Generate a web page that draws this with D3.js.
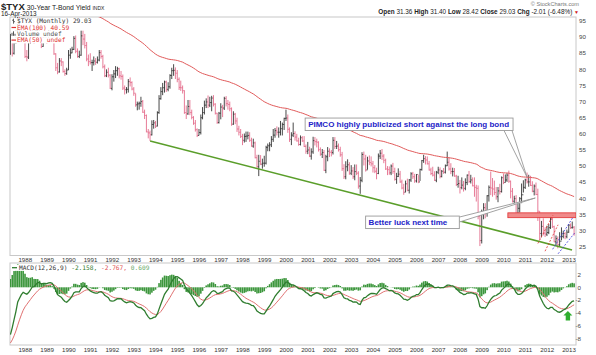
<!DOCTYPE html>
<html><head><meta charset="utf-8">
<script src="https://cdn.jsdelivr.net/npm/d3@7"></script>
<style>
body{margin:0;background:#fff;}
svg{display:block;font-family:Arial,"Liberation Sans",sans-serif;}
</style></head><body>
<svg id="c" width="596" height="355"></svg>
<script>
// ---------- DATA (monthly $TYX, May 1987 .. Apr 2013) ----------
const firstYear = 1987, firstMonth = 4; // May 1987 (0-based month)
const closes = [
 88.7,85.0,88.9,91.6,97.5,89.7,91.1,89.8,
 84.0,83.8,88.3,90.5,92.5,88.7,92.0,92.8,89.9,87.1,90.7,90.0,
 89.3,91.6,90.8,89.2,84.8,80.5,79.2,82.6,82.3,79.3,78.7,79.8,
 84.4,85.1,86.2,89.6,85.6,84.0,84.4,90.4,89.4,87.4,83.2,82.4,
 82.1,82.1,82.6,82.2,82.9,85.2,84.0,80.8,78.0,79.1,78.2,74.1,
 77.7,78.6,79.6,80.2,78.0,77.8,74.2,73.7,73.8,76.2,75.9,73.9,
 72.6,69.0,69.3,69.5,70.0,66.7,65.7,60.6,60.3,59.7,62.9,63.4,
 62.4,66.6,70.9,73.1,74.3,76.1,73.8,74.6,78.1,79.6,79.7,78.8,
 76.9,74.4,74.3,73.4,66.6,66.2,68.5,66.6,65.1,63.3,61.3,59.5,
 60.4,65.0,66.6,68.9,69.9,68.9,69.7,71.1,69.2,66.4,63.5,66.4,
 68.3,68.0,71.0,69.4,69.1,67.8,63.0,66.1,64.0,61.5,60.5,59.2,
 58.0,59.2,59.3,59.5,58.0,56.2,57.2,52.6,49.8,51.5,50.6,50.9,
 50.9,55.8,56.3,56.6,58.3,59.6,61.0,60.5,60.5,61.6,62.9,64.8,
 64.9,61.4,58.3,59.6,60.1,59.0,57.8,56.7,58.8,57.8,56.1,54.6,
 55.0,53.1,54.4,57.9,57.6,57.4,55.1,53.7,54.2,48.7,52.9,54.6,
 54.3,54.2,58.0,56.1,56.2,55.1,53.5,49.2,46.7,49.8,50.4,47.8,
 48.5,46.7,48.3,47.8,43.8,45.6,53.6,52.2,48.8,51.6,51.1,50.7,
 49.5,48.4,47.7,53.1,54.0,53.1,51.8,49.1,48.9,47.9,50.0,48.3,
 45.9,46.8,47.5,45.1,43.2,41.9,44.5,42.5,45.7,47.6,46.7,45.4,
 47.4,45.1,48.9,51.7,52.3,51.9,50.7,48.8,47.7,47.2,45.6,48.1,
 48.8,46.8,48.4,48.1,50.1,51.2,49.1,48.3,48.3,46.9,44.3,44.6,
 43.3,44.1,43.1,44.9,47.2,45.2,45.7,43.9,43.4,43.1,34.4,26.9,
 35.8,37.1,35.4,40.8,43.4,43.2,42.9,41.8,40.5,42.3,42.1,46.4,
 44.9,45.7,47.2,45.3,42.2,39.1,39.9,35.2,36.9,39.9,41.1,43.4,
 45.7,45.1,45.1,44.0,42.2,43.8,41.2,36.0,29.1,31.3,29.2,28.9,
 29.4,30.9,33.5,31.2,26.5,27.5,25.6,26.7,28.2,29.1,28.1,29.5,
 31.7,30.9,31.04,29.03
];
const highs = [
 91.0,89.5,89.2,92.5,99.0,102.5,92.0,93.0,
 90.0,86.0,89.0,91.2,93.5,93.0,92.7,94.0,93.5,90.5,91.3,92.0,
 91.5,92.5,93.5,91.5,90.0,85.0,82.0,83.5,83.5,82.5,80.0,80.5,
 86.0,86.5,87.0,90.3,90.5,86.5,85.8,92.0,92.0,91.0,88.5,84.6,
 85.0,83.0,84.0,83.5,84.0,86.0,86.0,84.5,81.5,80.0,80.5,78.5,
 78.5,79.8,81.0,80.8,80.5,79.5,78.4,75.0,74.5,77.0,77.5,76.3,
 74.5,72.5,70.0,70.0,71.5,70.5,67.5,66.0,61.5,61.0,64.2,64.3,
 64.0,67.0,72.0,74.5,75.8,76.5,76.5,76.0,78.5,80.5,81.6,80.6,
 79.8,77.5,76.5,75.0,73.5,68.8,70.5,70.5,67.5,65.5,64.3,61.7,
 61.5,66.0,68.3,70.3,71.0,71.9,71.5,71.8,72.0,69.5,66.5,66.8,
 69.5,69.0,71.5,71.7,70.5,70.0,68.2,67.0,66.5,65.0,62.5,61.5,
 60.0,60.1,60.7,60.7,60.5,58.8,58.5,57.6,53.5,53.5,53.4,52.3,
 53.2,56.3,57.0,57.4,59.3,61.5,61.8,62.3,62.0,64.0,63.5,65.0,
 67.5,66.0,62.0,60.5,63.5,60.8,60.0,58.8,59.5,59.3,59.3,56.7,
 57.5,56.0,55.5,59.1,59.0,58.5,57.7,55.8,55.3,55.0,53.5,55.9,
 55.5,55.0,59.0,59.0,57.8,57.0,56.0,54.4,50.6,51.5,52.1,51.2,
 50.3,49.7,50.5,50.5,48.4,46.6,54.3,54.5,53.5,52.9,53.3,53.0,
 51.6,50.3,49.5,53.9,55.0,55.3,53.7,52.3,50.0,49.9,50.5,51.0,
 49.5,47.9,49.3,48.5,45.8,44.5,45.5,46.1,46.0,48.1,48.2,47.6,
 47.5,47.2,49.2,51.9,53.5,53.1,53.0,51.6,49.5,49.8,48.4,48.5,
 49.8,49.6,48.8,49.4,50.5,54.5,52.6,50.9,49.5,49.4,47.3,47.0,
 45.7,46.5,45.4,46.2,47.4,48.5,47.3,46.5,46.5,44.2,44.0,35.5,
 36.5,38.5,38.5,41.0,44.0,48.3,46.3,45.5,43.5,43.5,44.5,46.8,
 47.7,47.4,47.8,48.6,45.5,43.2,40.8,41.0,38.8,40.4,44.6,45.6,
 46.1,48.0,47.3,47.0,45.3,44.3,44.9,43.0,36.0,33.0,33.8,31.0,
 31.5,32.0,34.6,34.0,31.5,28.5,28.2,29.5,31.0,30.0,29.5,30.3,
 32.0,32.2,32.8,31.40
];
const lows = [
 84.5,84.0,84.6,88.0,91.0,88.5,88.5,88.6,
 83.5,82.5,83.2,88.0,90.5,88.0,88.5,91.0,89.5,86.6,87.0,89.0,
 88.0,88.7,90.0,88.5,84.5,79.5,78.5,79.0,81.0,79.0,78.0,78.3,
 79.8,83.3,85.0,86.0,85.0,83.6,83.5,84.2,87.5,86.5,82.5,81.0,
 81.5,79.5,81.2,81.4,81.8,82.5,83.3,80.3,77.6,77.6,77.5,73.9,
 73.5,76.2,77.3,78.0,77.2,76.8,73.6,72.2,72.5,72.8,74.7,73.5,
 71.8,68.4,67.3,67.5,68.4,66.5,64.6,60.5,58.6,57.8,59.5,61.6,
 61.8,62.3,66.2,70.6,72.0,72.8,73.0,73.2,74.0,77.0,78.0,77.0,
 76.0,73.6,73.3,72.5,66.2,64.6,65.9,65.8,64.5,62.8,60.7,59.0,
 59.5,59.8,64.5,66.0,68.0,68.0,68.3,67.0,68.5,66.0,63.1,63.2,
 64.5,65.2,67.4,68.5,67.5,67.0,62.5,62.8,63.0,60.6,59.5,58.7,
 56.5,57.3,57.5,58.3,57.5,56.0,55.7,52.4,49.5,46.9,50.3,49.2,
 49.8,50.5,54.6,54.6,55.9,57.5,58.8,59.5,58.8,59.5,59.5,61.2,
 64.0,60.3,57.5,56.5,59.0,57.9,57.6,56.3,56.4,57.5,55.9,53.8,
 53.7,52.8,52.0,53.8,56.4,55.8,54.5,53.2,52.5,48.5,47.8,51.5,
 52.8,53.0,53.6,55.3,55.3,54.5,52.9,48.5,46.0,45.9,48.4,47.3,
 47.2,46.0,45.6,47.2,43.0,41.4,45.0,50.2,48.3,48.9,50.3,49.9,
 48.0,47.8,45.9,47.5,52.2,51.9,50.9,48.8,47.2,47.3,47.2,47.6,
 45.5,44.5,46.6,44.8,42.8,41.1,41.9,42.2,41.5,45.1,46.0,44.8,
 44.9,44.7,45.4,48.6,51.0,50.5,50.5,48.6,47.2,46.8,45.4,45.0,
 47.5,46.2,46.5,47.6,47.7,50.0,48.6,47.5,46.8,46.7,43.8,43.3,
 41.5,42.8,42.1,42.5,44.1,44.8,44.6,43.7,40.5,39.0,33.5,25.2,
 26.0,33.5,33.8,34.3,39.0,41.0,40.5,41.0,39.6,38.8,41.2,41.8,
 44.4,44.9,45.1,44.8,40.0,38.7,38.4,34.6,35.0,35.6,38.5,41.8,
 42.9,44.6,43.6,43.8,41.9,40.9,41.0,33.0,27.2,27.9,28.5,28.0,
 28.3,28.9,30.5,30.8,26.4,25.3,24.5,25.0,27.0,27.6,27.3,27.6,
 29.3,30.5,30.6,28.42
];
const firstOpen = 85.0;
const priceTicks = [25,30,35,40,45,50,55,60,65,70,75,80,85,90,95];
const macdTicks = [2,0,-2,-4,-6,-8];
const yearLabels = d3.range(1988, 2014);
// indicator state just before the first visible bar
const emaSeed = [114];              // EMA(100)
const macdSeed = [78, 85.4, -8.7];  // EMA12, EMA26, signal
// annotations in (date, value) terms
const trendLine = [[1993.79, 57.8], [2013.19, 24.0]];
const resistBand = [2010.24, 34.0, 35.5];
const pimcoBox = [2000.92, 64.9];  const pimcoTip = [2011.12, 46.6];
const luckBox = [2003.70, 34.5];   const luckTip = [2011.50, 40.1];
const redChannel = [[[2011.62, 26.0], [2012.32, 34.8]], [[2011.95, 23.6], [2012.55, 31.8]]];
const blueChannel = [[[2012.30, 24.2], [2013.25, 34.3]], [[2012.55, 22.8], [2013.30, 29.2]]];
const arrowAt = [2013.0, -3.7, -5.2];

// ---------- BUILD ----------
const svg = d3.select('#c');
const L = 10, R = 576, T1 = 17, B1 = 255.5, T2 = 263, B2 = 345;
const yr = t => { const y = Math.floor(t); return new Date(y, 0, 1).getTime() + (t - y) * 365.25 * 864e5; };
const x = d3.scaleTime().domain([new Date(1987, 4, 8), new Date(2013, 4, 17)]).range([L, R]);
const xt = t => x(new Date(yr(t)));
const y = d3.scaleLinear().domain([25, 95]).range([246.7, 21]);
const ym = d3.scaleLinear().domain([0, -8]).range([287.3, 338.5]);

const bars = closes.map((c, i) => ({
  date: new Date(firstYear, firstMonth + i, 15),
  o: i ? closes[i - 1] : firstOpen, h: highs[i], l: lows[i], c
}));
// EMA(100)
let e = emaSeed[0];
bars.forEach(b => { e = e + (2 / 101) * (b.c - e); b.ema = e; });
// MACD(12,26,9)
let [f, s, sg] = macdSeed;
bars.forEach((b, i) => {
  if (i > 0) { f += (2 / 13) * (b.c - f); s += (2 / 27) * (b.c - s); sg += 0.2 * ((f - s) - sg); }
  b.macd = f - s; b.sig = sg; b.hist = b.macd - sg;
});

const defs = svg.append('defs');
defs.append('clipPath').attr('id', 'cm').append('rect').attr('x', L).attr('y', T1).attr('width', R - L).attr('height', B1 - T1);
defs.append('clipPath').attr('id', 'cd').append('rect').attr('x', L).attr('y', T2).attr('width', R - L).attr('height', B2 - T2);

// panels
svg.append('rect').attr('x', L).attr('y', T1).attr('width', R - L).attr('height', B1 - T1).attr('fill', '#fff').attr('stroke', '#c8c8c8').attr('stroke-width', 1);
svg.append('rect').attr('x', L).attr('y', T2).attr('width', R - L).attr('height', B2 - T2).attr('fill', '#fff').attr('stroke', '#c8c8c8').attr('stroke-width', 1);

// header
const hd = svg.append('text').attr('x', 1).attr('y', 9.5).attr('fill', '#222');
hd.append('tspan').text('$TYX').attr('font-weight', 'bold').attr('font-size', 9.5);
hd.append('tspan').text(' 30-Year T-Bond Yield ').attr('font-size', 6.8);
hd.append('tspan').text('INDX').attr('font-size', 5);
svg.append('text').attr('x', 1).attr('y', 16).attr('font-size', 6.4).attr('fill', '#222').text('16-Apr-2013');
svg.append('text').attr('x', 579).attr('y', 6).attr('text-anchor', 'end').attr('font-size', 5.6).attr('fill', '#777').text('\u00a9 StockCharts.com');
const ohlc = svg.append('text').attr('x', 579).attr('y', 13.5).attr('text-anchor', 'end').attr('font-size', 6.4).attr('fill', '#222');
[['Open', ' 31.36 '], ['High', ' 31.40 '], ['Low', ' 28.42 '], ['Close', ' 29.03 '], ['Chg', ' -2.01 (-6.48%) ']].forEach(([k, v]) => {
  ohlc.append('tspan').attr('font-weight', 'bold').text(k);
  ohlc.append('tspan').text(v);
});
ohlc.append('tspan').attr('fill', '#d02020').attr('font-size', 5).text('\u25BC');

// main plot
const gm = svg.append('g').attr('clip-path', 'url(#cm)');
const barPath = arr => arr.map(b => {
  const cx = x(b.date);
  return `M${cx},${y(b.h)}V${y(b.l)}M${cx - 0.9},${y(b.o)}H${cx}M${cx},${y(b.c)}H${cx + 0.9}`;
}).join('');
gm.append('path').attr('d', barPath(bars.filter(b => b.c < b.o))).attr('stroke', '#e46d8c').attr('stroke-width', 0.9).attr('fill', 'none');
gm.append('path').attr('d', barPath(bars.filter(b => b.c >= b.o))).attr('stroke', '#333').attr('stroke-width', 0.9).attr('fill', 'none');
gm.append('path').datum(bars).attr('d', d3.line().x(b => x(b.date)).y(b => y(b.ema))).attr('stroke', '#e05a5a').attr('stroke-width', 1).attr('fill', 'none');

// annotations
gm.append('line').attr('x1', xt(trendLine[0][0])).attr('y1', y(trendLine[0][1])).attr('x2', xt(trendLine[1][0])).attr('y2', y(trendLine[1][1]))
  .attr('stroke', '#5a9e2a').attr('stroke-width', 1.6);
gm.append('rect').attr('x', xt(resistBand[0])).attr('y', y(resistBand[2])).attr('width', R - xt(resistBand[0])).attr('height', y(resistBand[1]) - y(resistBand[2]))
  .attr('fill', '#f08a8a').attr('stroke', '#e03030').attr('stroke-width', 0.8);
redChannel.forEach(seg => gm.append('line').attr('x1', xt(seg[0][0])).attr('y1', y(seg[0][1])).attr('x2', xt(seg[1][0])).attr('y2', y(seg[1][1]))
  .attr('stroke', '#e03030').attr('stroke-width', 0.8).attr('stroke-dasharray', '2,1.5'));
blueChannel.forEach(seg => gm.append('line').attr('x1', xt(seg[0][0])).attr('y1', y(seg[0][1])).attr('x2', xt(seg[1][0])).attr('y2', y(seg[1][1]))
  .attr('stroke', '#3a3ae0').attr('stroke-width', 0.8).attr('stroke-dasharray', '2,1.5'));

function callout(box, tip, label, padL, padR, baseSide) {
  const bx = xt(box[0]), by = y(box[1]);
  const t = svg.append('text').attr('x', bx + padL).attr('y', by + 9).attr('font-size', 8).attr('font-weight', 'bold').attr('fill', '#2424c8').text(label);
  const w = t.node().getComputedTextLength() + padL + padR, h = 12.5;
  let base;
  if (baseSide === 'bottom') base = [[bx + w - 9, by + h], [bx + w - 1, by + h]];
  else base = [[bx + w, by + 1], [bx + w, by + 6]];
  const tx = xt(tip[0]), ty = y(tip[1]);
  svg.append('path').attr('d', `M${base[0][0]},${base[0][1]}L${tx},${ty}L${base[1][0]},${base[1][1]}`)
    .attr('fill', '#fff').attr('stroke', '#999').attr('stroke-width', 0.9);
  svg.append('rect').attr('x', bx).attr('y', by).attr('width', w).attr('height', h).attr('fill', '#fff').attr('stroke', '#999').attr('stroke-width', 0.9);
  t.raise();
}
callout(pimcoBox, pimcoTip, 'PIMCO highly publicized short against the long bond', 3, 4, 'bottom');
callout(luckBox, luckTip, 'Better luck next time', 3, 12, 'right');

// legend (main)
const mono = '"DejaVu Sans Mono","Liberation Mono",monospace';
const lg = svg.append('g').attr('font-family', mono).attr('font-size', 6.2);
const leg = [['$TYX (Monthly) 29.03', '#333', 'ohlc'], ['EMA(100) 40.59', '#e03030', 'line'], ['Volume undef', '#555', 'vol'], ['EMA(50) undef', '#e03030', 'line']];
leg.forEach(([txt, col, ic], i) => {
  const cy = 21.2 + i * 6.3;
  const tt = lg.append('text').attr('x', 17).attr('y', cy + 2.2).attr('fill', col).text(txt);
  const w = tt.node().getComputedTextLength();
  lg.insert('rect', 'text').attr('x', 11).attr('y', cy - 3).attr('width', w + 7).attr('height', 6.3).attr('fill', '#fff');
  if (ic === 'line') lg.append('line').attr('x1', 11.5).attr('x2', 16).attr('y1', cy).attr('y2', cy).attr('stroke', col).attr('stroke-width', 1.2);
  if (ic === 'ohlc') lg.append('path').attr('d', `M13.5,${cy - 2.5}V${cy + 2.5}M12,${cy - 1}H13.5M13.5,${cy + 0.5}H15`).attr('stroke', '#444').attr('stroke-width', 0.8).attr('fill', 'none');
  if (ic === 'vol') lg.append('path').attr('d', `M12,${cy + 2}V${cy - 1}M13.5,${cy + 2}V${cy - 2.5}M15,${cy + 2}V${cy}`).attr('stroke', '#555').attr('stroke-width', 1).attr('fill', 'none');
});

// right axis (price)
svg.append('g').selectAll('text').data(priceTicks).join('text')
  .attr('x', 579).attr('y', d => y(d) + 2.2).attr('font-size', 6.2).attr('fill', '#444').text(d => d);

// year labels
[261.5, 351.5].forEach(yy => svg.append('g').selectAll('text').data(yearLabels).join('text')
  .attr('x', d => x(new Date(d, 0, 20))).attr('y', yy).attr('text-anchor', 'middle').attr('font-size', 6.2).attr('fill', '#333').text(d => d));

// MACD panel
const gd = svg.append('g').attr('clip-path', 'url(#cd)');
gd.selectAll('rect').data(bars).join('rect')
  .attr('x', b => x(b.date) - 0.8).attr('width', 1.6)
  .attr('y', b => Math.min(ym(b.hist), ym(0))).attr('height', b => Math.abs(ym(b.hist) - ym(0)))
  .attr('fill', '#3c963c');
gd.append('path').datum(bars).attr('d', d3.line().x(b => x(b.date)).y(b => ym(b.sig))).attr('stroke', '#e07070').attr('stroke-width', 1).attr('fill', 'none');
gd.append('path').datum(bars).attr('d', d3.line().x(b => x(b.date)).y(b => ym(b.macd))).attr('stroke', '#2f7d2f').attr('stroke-width', 1.3).attr('fill', 'none');
// arrow
const ax = xt(arrowAt[0]), at = ym(arrowAt[1]), ab = ym(arrowAt[2]), am = at + (ab - at) * 0.48;
gd.append('path').attr('d', `M${ax},${at}L${ax + 4.5},${am}L${ax + 2.2},${am}L${ax + 2.2},${ab}L${ax - 2.2},${ab}L${ax - 2.2},${am}L${ax - 4.5},${am}Z`).attr('fill', '#2fae2f');

svg.append('g').selectAll('text').data(macdTicks).join('text')
  .attr('x', 581).attr('y', d => ym(d) + 2.2).attr('text-anchor', 'end').attr('font-size', 6.2).attr('fill', '#444').text(d => d);

const mlg = svg.append('g');
const ml = mlg.append('text').attr('x', 19).attr('y', 269.8).attr('font-family', mono).attr('font-size', 6.2);
ml.append('tspan').attr('fill', '#333').text('MACD(12,26,9) ');
ml.append('tspan').attr('fill', '#2f7d2f').text('-2.158, ');
ml.append('tspan').attr('fill', '#e05050').text('-2.767, ');
ml.append('tspan').attr('fill', '#6aaa6a').text('0.609');
const mw = ml.node().getComputedTextLength();
mlg.insert('rect', 'text').attr('x', 11).attr('y', 264.6).attr('width', mw + 9).attr('height', 6.3).attr('fill', '#fff');
mlg.append('line').attr('x1', 12).attr('x2', 17).attr('y1', 267.7).attr('y2', 267.7).attr('stroke', '#2f7d2f').attr('stroke-width', 1.3);
</script>
</body></html>
